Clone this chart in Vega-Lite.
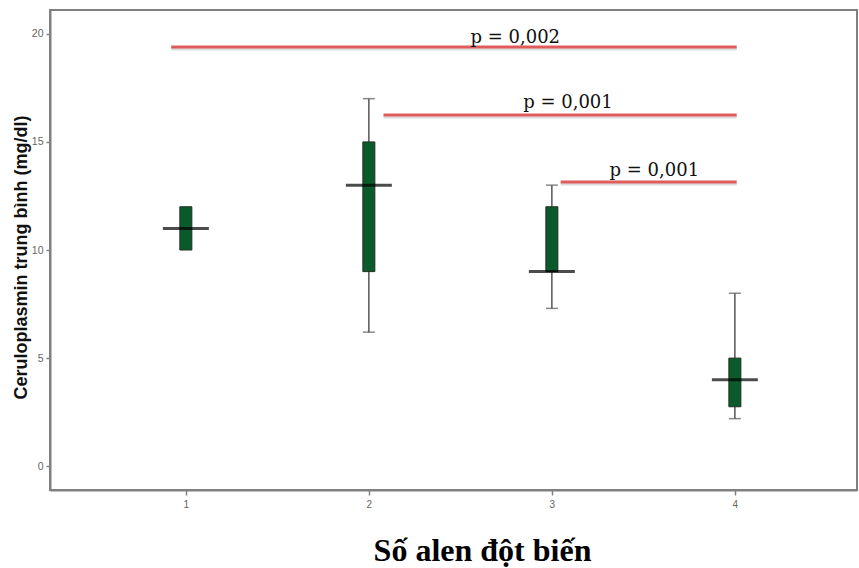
{
  "$schema": "https://vega.github.io/schema/vega-lite/v6.json",
  "autosize": "none",
  "width": 807,
  "height": 480,
  "padding": {"left": 50, "top": 10, "right": 2, "bottom": 78},
  "background": "white",
  "config": {
    "view": {"stroke": "#808080", "strokeWidth": 2},
    "axis": {"grid": false}
  },
  "datasets": {
    "boxes": [
      {"g": 1, "q1": 10, "q3": 12, "med": 11},
      {"g": 2, "q1": 9, "q3": 15, "med": 13},
      {"g": 3, "q1": 9, "q3": 12, "med": 9},
      {"g": 4, "q1": 2.75, "q3": 5, "med": 4}
    ],
    "whiskers": [
      {"g": 2, "from": 15, "to": 17},
      {"g": 2, "from": 6.2, "to": 9},
      {"g": 3, "from": 12, "to": 13},
      {"g": 3, "from": 7.3, "to": 9},
      {"g": 4, "from": 5, "to": 8},
      {"g": 4, "from": 2.2, "to": 2.75}
    ],
    "caps": [
      {"g": 2, "v": 17}, {"g": 2, "v": 6.2},
      {"g": 3, "v": 13}, {"g": 3, "v": 7.3},
      {"g": 4, "v": 8}, {"g": 4, "v": 2.2}
    ],
    "sig": [
      {"x1": 0.92, "x2": 4.01, "y": 19.39, "tx": 2.8, "ty": 19.59, "label": "p = 0,002"},
      {"x1": 2.08, "x2": 4.01, "y": 16.24, "tx": 3.088, "ty": 16.55, "label": "p = 0,001"},
      {"x1": 3.048, "x2": 4.01, "y": 13.14, "tx": 3.56, "ty": 13.4, "label": "p = 0,001"}
    ]
  },
  "layer": [
    {
      "data": {"name": "whiskers"},
      "mark": {"type": "rule", "color": "#555555", "strokeWidth": 1.5},
      "encoding": {
        "x": {"field": "g", "type": "quantitative",
          "scale": {"domain": [0.285, 4.64], "nice": false, "zero": false},
          "axis": {
            "values": [1, 2, 3, 4], "format": "d",
            "title": "Số alen đột biến",
            "titleFont": "Liberation Serif", "titleFontSize": 32, "titleFontWeight": "bold",
            "titleColor": "#000000", "titleX": 432, "titleY": 70,
            "titleBaseline": "alphabetic", "titleAlign": "center",
            "labelFont": "Liberation Sans", "labelFontSize": 10, "labelColor": "#666666",
            "labelPadding": 4,
            "domainColor": "#808080", "domainWidth": 2,
            "tickColor": "#808080", "tickSize": 5, "tickWidth": 1.5
          }
        },
        "y": {"field": "from", "type": "quantitative",
          "scale": {"domain": [-1.1, 21.1], "nice": false, "zero": false},
          "axis": {
            "values": [0, 5, 10, 15, 20],
            "title": "Ceruloplasmin trung bình (mg/dl)",
            "titleFont": "Liberation Sans", "titleFontSize": 18, "titleFontWeight": "bold",
            "titleColor": "#111111", "titleX": -29, "titleY": 247,
            "titleAngle": -90, "titleBaseline": "middle", "titleAlign": "center",
            "labelFont": "Liberation Sans", "labelFontSize": 10.5, "labelColor": "#666666",
            "labelPadding": 3,
            "domainColor": "#808080", "domainWidth": 2,
            "tickColor": "#808080", "tickSize": 4, "tickWidth": 1.5
          }
        },
        "y2": {"field": "to"}
      }
    },
    {
      "data": {"name": "caps"},
      "mark": {"type": "tick", "orient": "horizontal", "color": "#555555", "size": 12, "thickness": 1.5},
      "encoding": {
        "x": {"field": "g", "type": "quantitative"},
        "y": {"field": "v", "type": "quantitative"}
      }
    },
    {
      "data": {"name": "boxes"},
      "mark": {"type": "bar", "width": 12, "fill": "#0b5a2b", "stroke": "#203020", "strokeWidth": 1},
      "encoding": {
        "x": {"field": "g", "type": "quantitative"},
        "y": {"field": "q1", "type": "quantitative"},
        "y2": {"field": "q3"}
      }
    },
    {
      "data": {"name": "boxes"},
      "mark": {"type": "tick", "orient": "horizontal", "color": "#000000", "size": 46, "thickness": 3},
      "encoding": {
        "x": {"field": "g", "type": "quantitative"},
        "y": {"field": "med", "type": "quantitative"}
      }
    },
    {
      "data": {"name": "sig"},
      "mark": {"type": "rule", "color": "#9a9a9a", "strokeWidth": 3, "opacity": 0.35, "yOffset": 2},
      "encoding": {
        "x": {"field": "x1", "type": "quantitative"},
        "x2": {"field": "x2"},
        "y": {"field": "y", "type": "quantitative"}
      }
    },
    {
      "data": {"name": "sig"},
      "mark": {"type": "rule", "color": "#e05c5c", "strokeWidth": 3},
      "encoding": {
        "x": {"field": "x1", "type": "quantitative"},
        "x2": {"field": "x2"},
        "y": {"field": "y", "type": "quantitative"}
      }
    },
    {
      "data": {"name": "sig"},
      "mark": {"type": "text", "font": "DejaVu Serif", "fontSize": 18, "color": "#111111", "align": "center", "baseline": "alphabetic"},
      "encoding": {
        "x": {"field": "tx", "type": "quantitative"},
        "y": {"field": "ty", "type": "quantitative"},
        "text": {"field": "label"}
      }
    }
  ]
}
